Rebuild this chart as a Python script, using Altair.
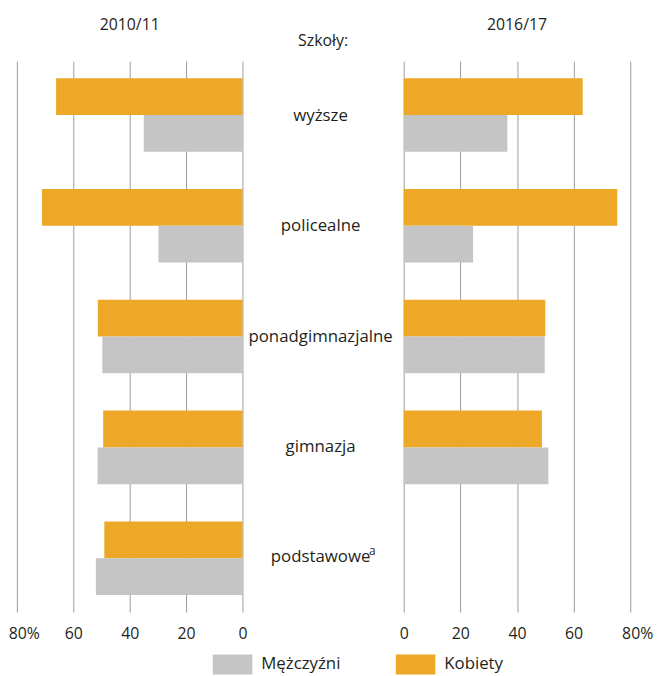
import altair as alt
import pandas as pd

categories = ["wyższe", "policealne", "ponadgimnazjalne", "gimnazja", "podstawowe"]
category_labels = ["wyższe", "policealne", "ponadgimnazjalne", "gimnazja", "podstawowe"]
footnotes = ["", "", "", "", "a"]
series = ["Mężczyźni", "Kobiety"]
men_2010 = [35.0, 29.8, 49.7, 51.4, 52.0]
women_2010 = [66.1, 71.1, 51.3, 49.4, 49.0]
men_2016 = [36.6, 24.5, 49.8, 51.1, None]
women_2016 = [63.2, 75.4, 50.0, 48.8, None]
tick_values = [0, 20, 40, 60, 80]
colors = ["#C4C5C4", "#EEA828"]
FONT = "Open Sans"
TXT = "#231F20"


def long(men, women):
    rows = []
    for c, m, w in zip(categories, men, women):
        if w is not None:
            rows.append({"szkola": c, "plec": "Kobiety", "value": w})
        if m is not None:
            rows.append({"szkola": c, "plec": "Mężczyźni", "value": m})
    return pd.DataFrame(rows)


yscale = alt.Scale(domain=categories, paddingInner=0.336, paddingOuter=0.154)
H = 557


def panel(df, title, reverse, width):
    return alt.Chart(df, title=alt.TitleParams(title, fontSize=16, font=FONT, fontWeight="normal",
                                               color=TXT, offset=28)).mark_bar().encode(
        x=alt.X("value:Q", scale=alt.Scale(domain=[0, 80], reverse=reverse, nice=False),
                axis=alt.Axis(values=tick_values, grid=True, gridColor="#9d9d9d", gridWidth=1,
                              domain=False, ticks=False, title=None, labelPadding=14,
                              labelFlush=False,
                              labelFont=FONT, labelFontSize=16, labelColor=TXT,
                              labelExpr="datum.value == 80 ? '80%' : datum.label",
                              labelOffset={"condition": {"test": "datum.value == 80", "value": 7}, "value": 0})),
        y=alt.Y("szkola:N", sort=categories, scale=yscale, axis=None),
        yOffset=alt.YOffset("plec:N", sort=["Kobiety", "Mężczyźni"],
                            scale=alt.Scale(domain=["Kobiety", "Mężczyźni"], paddingInner=0, paddingOuter=0)),
        color=alt.Color("plec:N", scale=alt.Scale(domain=series, range=colors),
                        legend=alt.Legend(orient="none", legendX=198, legendY=590, direction="horizontal",
                                          title=None, symbolType="M-1,-0.5H1V0.5H-1Z", symbolSize=1600,
                                          symbolStrokeWidth=0, labelFont=FONT, labelFontSize=17,
                                          labelColor=TXT, columnPadding=55, labelOffset=9, padding=0)),
    ).properties(width=width, height=H)


left = panel(long(men_2010, women_2010), "2010/11", True, 228)
right = panel(long(men_2016, women_2016), "2016/17", False, 229)

labels_df = pd.DataFrame({"szkola": categories, "label": category_labels, "note": footnotes})
mid_base = alt.Chart(labels_df, title=alt.TitleParams("Szkoły:", fontSize=16, font=FONT, fontWeight="normal",
                                                      color=TXT, offset=12))
mid_text = mid_base.mark_text(font=FONT, fontSize=17, color=TXT).encode(
    y=alt.Y("szkola:N", sort=categories, scale=yscale, axis=None),
    x=alt.value(79),
    text="label:N",
)
mid_note = mid_base.mark_text(font=FONT, fontSize=12, color=TXT, align="left", dx=49, dy=-6).encode(
    y=alt.Y("szkola:N", sort=categories, scale=yscale, axis=None),
    x=alt.value(79),
    text="note:N",
)
mid = alt.layer(mid_text, mid_note).properties(width=163, height=H)

chart = alt.hconcat(left, mid, right, spacing=0, bounds="flush").resolve_scale(
    color="shared").resolve_legend(color="shared").configure_view(stroke=None).properties(
    padding={"left": 0, "top": 6, "right": 0, "bottom": 0})

chart.save("out.html", embed_options={"renderer": "svg", "actions": False})
